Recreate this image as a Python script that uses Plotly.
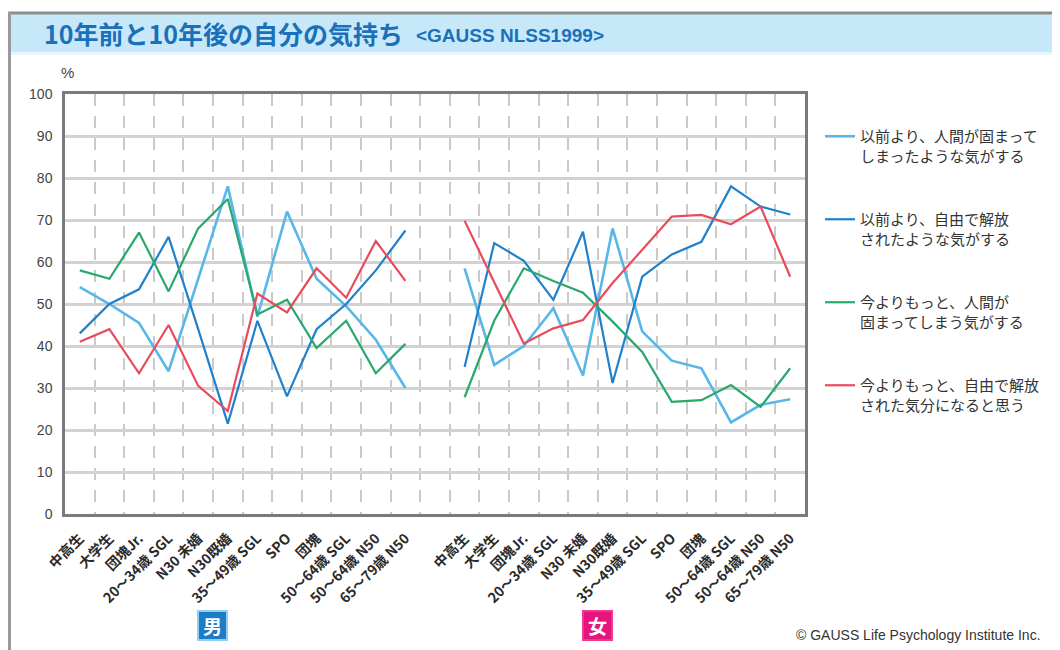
import plotly.graph_objects as go

# ---------------- data ----------------
categories = ["中高生", "大学生", "団塊Jr.", "20〜34歳 SGL", "N30 未婚", "N30既婚",
              "35〜49歳 SGL", "SPO", "団塊", "50〜64歳 SGL", "50〜64歳 N50", "65〜79歳 N50"]

series_names = [
    "以前より、人間が固まって<br>しまったような気がする",
    "以前より、自由で解放<br>されたような気がする",
    "今よりもっと、人間が<br>固まってしまう気がする",
    "今よりもっと、自由で解放<br>された気分になると思う",
]
series_colors = ["#58b7e7", "#1f80cc", "#27a96b", "#e94b5c"]
series_widths = [2.6, 2.2, 2.2, 2.2]

male_values = [
    [54, 50, 45.5, 34, 56, 78, 47, 72, 56, 49.5, 41.5, 30],
    [43, 50, 53.5, 66, 44, 21.5, 46, 28, 44, 50, 58, 67.5],
    [58, 56, 67, 53, 68, 75, 47.5, 51, 39.5, 46, 33.5, 40.5],
    [41, 44, 33.5, 45, 30.5, 24.5, 52.5, 48, 58.5, 51.5, 65, 55.5],
]
female_values = [
    [58.5, 35.5, 40, 49, 33, 68, 43.5, 36.5, 34.7, 21.8, 26, 27.3],
    [35, 64.5, 60.3, 51, 67.2, 31.2, 56.5, 61.8, 64.8, 78, 73.2, 71.3],
    [27.8, 46, 58.5, 55.5, 52.7, 45.8, 38.6, 26.7, 27.1, 30.7, 25.5, 34.7],
    [69.8, 55, 40.6, 44.2, 46.2, 55, 63, 70.8, 71.2, 69, 73.2, 56.5],
]
y_ticks = [0, 10, 20, 30, 40, 50, 60, 70, 80, 90, 100]

# ---------------- layout geometry (pixels, page coordinates) ----------------
OFF = 8                      # page body margin
W, H = 1060 - OFF, 650 - OFF
PL, PR, PT, PB = 65, 805, 94, 514


def xp(px):
    return (px - PL) / (PR - PL)


def yp(py):
    return (PB - py) / (PB - PT)


n = len(categories)
x_male = list(range(n))
x_female = list(range(n + 1, 2 * n + 1))
x_all = x_male + [n] + x_female

fig = go.Figure()
for name, col, wd, mv, fv in zip(series_names, series_colors, series_widths,
                                 male_values, female_values):
    fig.add_trace(go.Scatter(
        x=x_all, y=mv + [None] + fv, mode="lines", name=name,
        legendgroup=name, connectgaps=False,
        line=dict(color=col, width=wd),
    ))

fig.update_layout(
    width=W, height=H,
    margin=dict(l=PL - OFF, r=(W + OFF) - PR, t=PT - OFF, b=(H + OFF) - PB),
    paper_bgcolor="white", plot_bgcolor="white",
    font=dict(family="Noto Sans CJK JP, sans-serif", color="#333"),
    showlegend=True,
    legend=dict(
        x=xp(820), y=yp(120), xanchor="left", yanchor="top",
        font=dict(size=15, color="#333", family="Noto Sans CJK JP"),
        tracegroupgap=41, valign="top", bgcolor="rgba(0,0,0,0)",
    ),
)

fig.update_xaxes(
    range=[-0.5, 2 * n + 0.5],
    tickmode="array", tickvals=x_male + x_female, ticktext=categories + categories,
    tickangle=-45, ticks="", showgrid=False,
    tickfont=dict(size=14, color="#2a2a2a", family="Noto Sans CJK JP", weight="bold"),
    ticklabelstandoff=8,
    minor=dict(tickmode="array", tickvals=[i + 0.5 for i in range(2 * n)],
               showgrid=True, gridcolor="#cacaca", gridwidth=2, griddash="12px,10px",
               ticks=""),
    showline=True, linecolor="#7a7a7a", linewidth=2.5, mirror=True,
    zeroline=False,
)
fig.update_yaxes(
    range=[0, 100], tickmode="array", tickvals=y_ticks,
    showgrid=True, gridcolor="#d2d2d2", gridwidth=2.5,
    tickfont=dict(size=14, color="#444", family="Liberation Sans"),
    ticks="", ticklabelstandoff=7,
    showline=True, linecolor="#7a7a7a", linewidth=2.5, mirror=True,
    zeroline=False,
)

shapes = [
    # title band
    dict(type="rect", xref="paper", yref="paper", x0=xp(10), x1=xp(1062), y0=yp(52), y1=yp(14),
         fillcolor="#c7e8f8", line=dict(width=0), layer="below"),
    dict(type="rect", xref="paper", yref="paper", x0=xp(10), x1=xp(1062), y0=yp(55), y1=yp(52),
         fillcolor="#e8f5fc", line=dict(width=0), layer="below"),
    # outer frame
    dict(type="line", xref="paper", yref="paper", x0=xp(8), x1=xp(1062), y0=yp(13), y1=yp(13),
         line=dict(color="#8c8c8c", width=3)),
    dict(type="line", xref="paper", yref="paper", x0=xp(9.5), x1=xp(9.5), y0=yp(12), y1=yp(652),
         line=dict(color="#999999", width=3)),
]

annotations = [
    dict(text="<b>10年前と10年後の自分の気持ち</b>", x=xp(42), y=yp(33), xref="paper", yref="paper",
         xanchor="left", yanchor="middle", showarrow=False,
         font=dict(size=25, color="#1a70b9", family="Noto Sans CJK JP")),
    dict(text="<b>&lt;GAUSS NLSS1999&gt;</b>", x=xp(414), y=yp(35), xref="paper", yref="paper",
         xanchor="left", yanchor="middle", showarrow=False,
         font=dict(size=19, color="#1a70b9", family="Liberation Sans")),
    dict(text="%", x=xp(59), y=yp(73), xref="paper", yref="paper",
         xanchor="left", yanchor="middle", showarrow=False,
         font=dict(size=15, color="#444", family="Liberation Sans")),
    dict(text="<b>男</b>", x=xp(212), y=yp(625), xref="paper", yref="paper",
         xanchor="center", yanchor="middle", showarrow=False,
         width=25, height=25, bgcolor="#1b7cc8", bordercolor="#8fd0f0", borderwidth=2, borderpad=1,
         font=dict(size=19, color="white", family="Noto Sans CJK JP")),
    dict(text="<b>女</b>", x=xp(597), y=yp(625), xref="paper", yref="paper",
         xanchor="center", yanchor="middle", showarrow=False,
         width=25, height=25, bgcolor="#e6147f", bordercolor="#ee3a8c", borderwidth=2, borderpad=1,
         font=dict(size=19, color="white", family="Noto Sans CJK JP")),
    dict(text="© GAUSS Life Psychology Institute Inc.", x=xp(1043), y=yp(635),
         xref="paper", yref="paper", xanchor="right", yanchor="middle", showarrow=False,
         font=dict(size=14, color="#333", family="Liberation Sans")),
]

fig.update_layout(shapes=shapes, annotations=annotations)
fig.write_html("out.html")
